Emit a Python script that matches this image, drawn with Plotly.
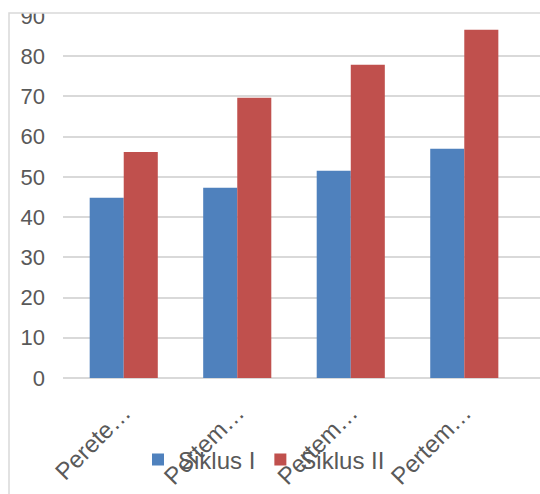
import plotly.graph_objects as go

categories = ["Perete…", "Pertem…", "Pertem…", "Pertem…"]
siklus1 = [44.8, 47.3, 51.5, 57.0]
siklus2 = [56.2, 69.7, 77.9, 86.6]
series_names = ["Siklus I", "Siklus II"]
y_ticks = [0, 10, 20, 30, 40, 50, 60, 70, 80, 90]

W, H = 540, 494
L, T, B = 63, 16, 116
plot_w = W - L
plot_h = H - T - B

fig = go.Figure()
fig.add_trace(go.Bar(x=list(range(4)), y=siklus1, name=series_names[0],
                     marker=dict(color="#4F81BD", line=dict(width=0))))
fig.add_trace(go.Bar(x=list(range(4)), y=siklus2, name=series_names[1],
                     marker=dict(color="#C0504D", line=dict(width=0))))

def px_to_paper_x(px):
    return (px - L) / plot_w

def px_to_paper_y(py):
    return (H - B - py) / plot_h

FS = 22
fig.update_layout(
    width=W, height=H,
    margin=dict(l=L, r=0, t=T, b=B, pad=0, autoexpand=False),
    paper_bgcolor="white", plot_bgcolor="white",
    barmode="group", bargap=0.40, bargroupgap=0,
    font=dict(family="Liberation Sans, Arial, sans-serif", color="#595959", size=FS),
    xaxis=dict(
        tickmode="array", tickvals=list(range(4)), ticktext=categories,
        range=[-0.535, 3.667], tickangle=-45, showgrid=False, zeroline=False,
        showline=False, ticks="", ticklabelstandoff=15, automargin=False,
        tickfont=dict(size=24, color="#595959"),
    ),
    yaxis=dict(
        range=[0, 90], tickmode="array", tickvals=y_ticks,
        showgrid=True, gridcolor="#d9d9d9", gridwidth=1.5,
        zeroline=True, zerolinecolor="#d9d9d9", zerolinewidth=1.5,
        showline=False, ticks="", ticklabelstandoff=17, automargin=False,
        tickfont=dict(size=FS, color="#595959"),
    ),
    legend=dict(
        orientation="h", xref="container", yref="container",
        x=264 / W, xanchor="center", y=1 - 460 / H, yanchor="middle",
        bgcolor="rgba(0,0,0,0)", font=dict(size=24, color="#595959"),
        itemwidth=30, tracegroupgap=0,
    ),
    showlegend=True,
)

top_y = px_to_paper_y(13)
fig.add_shape(type="rect", xref="paper", yref="paper",
              x0=px_to_paper_x(-5), x1=px_to_paper_x(560),
              y0=top_y, y1=px_to_paper_y(-20),
              fillcolor="white", line=dict(width=0), layer="above")
fig.add_shape(type="rect", xref="paper", yref="paper",
              x0=px_to_paper_x(9), x1=px_to_paper_x(600),
              y0=px_to_paper_y(520), y1=top_y,
              fillcolor="rgba(0,0,0,0)", line=dict(color="#d9d9d9", width=1.5),
              layer="above")

fig.write_html("out.html")
